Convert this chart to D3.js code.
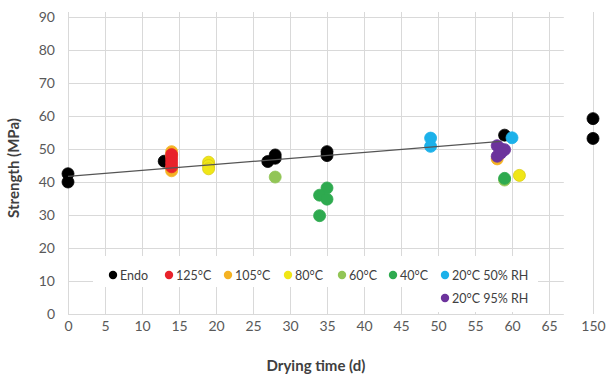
<!DOCTYPE html>
<html>
<head>
<meta charset="utf-8">
<script src="https://cdn.jsdelivr.net/npm/d3@7/dist/d3.min.js"></script>
<style>
  html, body { margin: 0; padding: 0; background: #fff; }
  svg { display: block; font-family: Lato, "Open Sans", sans-serif; }
</style>
</head>
<body>
<svg id="chart" width="606" height="378"></svg>
<script>
// ---- data ----
const seriesNames = ["Endo", "125°C", "105°C", "80°C", "60°C", "40°C", "20°C 50% RH", "20°C 95% RH"];
const seriesColors = ["#000000", "#e8222a", "#f4b223", "#f0e617", "#92c556", "#2eaa4f", "#1cb1ea", "#6c339c"];

const endoX = [0, 0, 13, 27, 28, 28, 35, 35, 59, 150, 150];
const endoY = [42.5, 40, 46.3, 46.2, 48.2, 47.2, 49.2, 48, 54.2, 59.2, 53.2];

const c125X = [14, 14, 14, 14];
const c125Y = [48.3, 47, 45.8, 44.6];

const c105X = [14, 14, 14, 14, 58];
const c105Y = [49.2, 48, 44.2, 43.4, 47];

const c80X = [19, 19, 19, 61];
const c80Y = [46, 45, 44, 42];

const c60X = [28, 59];
const c60Y = [41.5, 40.6];

const c40X = [35, 34, 35, 34, 59];
const c40Y = [38.2, 36, 34.8, 29.8, 41.1];

const rh50X = [49, 49, 60];
const rh50Y = [53.3, 50.8, 53.4];

const rh95X = [58, 58.5, 59, 58, 58.5];
const rh95Y = [51, 50, 49.8, 47.8, 48.8];

const trendX = [0, 58.5];
const trendY = [41.7, 52.3];

const xTicks = [0, 5, 10, 15, 20, 25, 30, 35, 40, 45, 50, 55, 60, 65, 150];
const yTicks = [0, 10, 20, 30, 40, 50, 60, 70, 80, 90];

const xTitle = "Drying time (d)";
const yTitle = "Strength (MPa)";

// ---- build ----
const seriesX = [endoX, c125X, c105X, c80X, c60X, c40X, rh50X, rh95X];
const seriesY = [endoY, c125Y, c105Y, c80Y, c60Y, c40Y, rh50Y, rh95Y];
const drawOrder = [0, 2, 1, 3, 4, 5, 6, 7];

const svg = d3.select("#chart");
const gridColor = "#d9d9d9";
const textColor = "#595959";

// broken x axis: 0..67 linear, then jump to 150
const x = d3.scaleLinear().domain([0, 67, 150]).range([68, 563.8, 593]);
const y = d3.scaleLinear().domain([0, 90]).range([314, 17]);

// horizontal gridlines
svg.append("g").selectAll("line").data(yTicks).join("line")
  .attr("x1", x(0)).attr("x2", x(67))
  .attr("y1", d => y(d) + 0.5).attr("y2", d => y(d) + 0.5)
  .attr("stroke", gridColor).attr("stroke-width", 1);

// vertical gridlines
svg.append("g").selectAll("line").data(xTicks).join("line")
  .attr("x1", d => Math.round(x(d)) + 0.5).attr("x2", d => Math.round(x(d)) + 0.5)
  .attr("y1", 12).attr("y2", y(0))
  .attr("stroke", gridColor).attr("stroke-width", 1);

// legend background (covers grid)
svg.append("rect").attr("x", 93).attr("y", 256).attr("width", 445).attr("height", 31).attr("fill", "#fff");
svg.append("rect").attr("x", 420).attr("y", 286).attr("width", 118).attr("height", 26).attr("fill", "#fff");

// axes labels
const yAxis = d3.axisLeft(y).tickValues(yTicks).tickSize(0).tickPadding(0);
svg.append("g").attr("transform", "translate(55,0)").call(yAxis)
  .call(g => g.select(".domain").remove())
  .call(g => g.selectAll("text").attr("fill", textColor).attr("font-size", 14).attr("font-family", "Lato, sans-serif"));

const xAxis = d3.axisBottom(x).tickValues(xTicks).tickSize(0).tickPadding(0).tickFormat(d3.format("d"));
svg.append("g").attr("transform", "translate(0,321)").call(xAxis)
  .call(g => g.select(".domain").remove())
  .call(g => g.selectAll("text").attr("fill", textColor).attr("font-size", 14).attr("font-family", "Lato, sans-serif"));

// points
drawOrder.forEach(i => {
  const pts = d3.zip(seriesX[i], seriesY[i]);
  svg.append("g").selectAll("circle").data(pts).join("circle")
    .attr("cx", d => x(d[0])).attr("cy", d => y(d[1])).attr("r", 6)
    .attr("fill", seriesColors[i])
    .attr("stroke", i === 3 ? "#d9cc10" : seriesColors[i]).attr("stroke-width", 0.8);
});

// trend line (on top of markers)
const line = d3.line().x(d => x(d[0])).y(d => y(d[1]));
svg.append("path").datum(d3.zip(trendX, trendY)).attr("d", line)
  .attr("fill", "none").attr("stroke", "#555").attr("stroke-width", 1.2);

// legend
const legendPos = [[113, 275], [169, 275], [228, 275], [288, 275], [342, 275], [393, 275], [445, 275], [445, 298]];
const lg = svg.append("g");
seriesNames.forEach((name, i) => {
  const [lx, ly] = legendPos[i];
  lg.append("circle").attr("cx", lx).attr("cy", ly).attr("r", 4.2).attr("fill", seriesColors[i]);
  lg.append("text").attr("x", lx + 7).attr("y", ly + 4.5)
    .attr("font-size", 12.5).attr("fill", "#404040").text(name);
});

// axis titles
svg.append("text").attr("x", 316).attr("y", 371).attr("text-anchor", "middle")
  .attr("font-size", 15).attr("font-weight", "bold").attr("fill", "#404040").text(xTitle);
svg.append("text").attr("transform", "translate(19,168) rotate(-90)").attr("text-anchor", "middle")
  .attr("font-size", 15).attr("font-weight", "bold").attr("fill", "#404040").text(yTitle);
</script>
</body>
</html>
